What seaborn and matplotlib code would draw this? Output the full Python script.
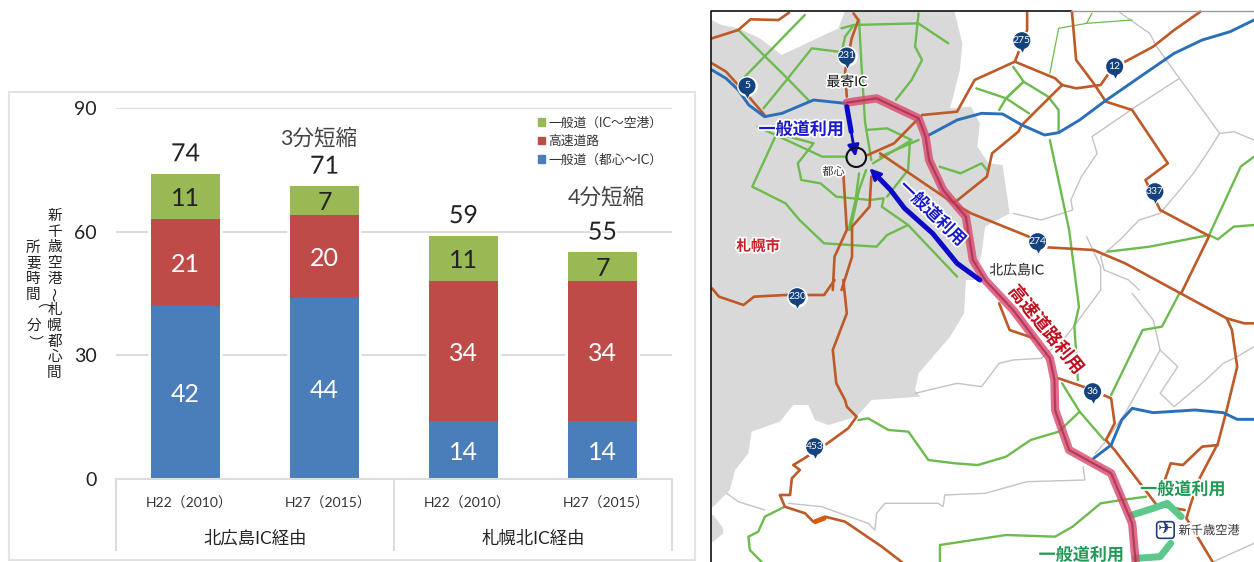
import numpy as np
import pandas as pd
import seaborn as sns
import matplotlib.pyplot as plt
import matplotlib.patheffects as pe
from matplotlib.patches import Patch, Polygon, Ellipse, Rectangle, FancyBboxPatch
from matplotlib.transforms import ScaledTranslation

# chart values
periods = ['H22（2010）', 'H27（2015）', 'H22（2010）', 'H27（2015）']
cases = ['a', 'b', 'c', 'd']
groups = ['北広島IC経由', '札幌北IC経由']
road_city = [42, 44, 14, 14]
road_express = [21, 20, 34, 34]
road_airport = [11, 7, 11, 7]
series_names = ['一般道（IC～空港）', '高速道路', '一般道（都心～IC）']
y_ticks = [0, 30, 60, 90]
BLUE, RED, GREEN = '#4a7ebb', '#be4b48', '#98b954'

# map data: map units (x, y)
land_grey = [(18, 60), (48, 75), (95, 85), (157, 115), (219, 165), (381, 85), (400, 33), (712, 33), (735, 130), (728, 210),
             (700, 325), (760, 320), (785, 370), (778, 440), (810, 490), (850, 495), (870, 640), (800, 680), (790, 760),
             (770, 840), (745, 840), (740, 940), (700, 1010), (610, 1120), (600, 1170), (615, 1190), (476, 1200),
             (433, 1250), (352, 1275), (314, 1260), (295, 1215), (252, 1215), (214, 1265), (133, 1295), (124, 1360),
             (86, 1410), (71, 1470), (24, 1520), (18, 1520)]
land_grey2 = [(18, 1545), (24, 1545), (52, 1585), (52, 1600), (24, 1625), (18, 1625)]

blue_roads = [
    [(20, 210), (60, 235), (95, 270), (125, 315), (170, 350), (220, 340), (310, 300), (400, 310)],
    [(640, 405), (720, 360), (790, 340), (850, 342), (905, 375), (970, 405), (1010, 398), (1070, 360), (1140, 305),
     (1250, 225), (1340, 160), (1420, 120), (1500, 95), (1568, 60)],
    [(1110, 1375), (1160, 1335), (1190, 1260), (1220, 1225), (1280, 1238), (1400, 1230), (1480, 1238), (1520, 1258),
     (1568, 1258)],
]
brown_roads = [
    [(20, 115), (95, 90), (130, 58), (210, 60), (240, 38)],
    [(20, 190), (60, 215), (125, 290), (170, 345)],
    [(424, 40), (438, 60), (419, 115), (400, 215), (405, 290)],
    [(620, 345), (720, 335), (770, 240), (885, 185), (1000, 235), (1020, 255), (1060, 265), (1130, 255), (1150, 225),
     (1200, 185), (1280, 140), (1340, 90), (1415, 35)],
    [(885, 185), (920, 90), (920, 38)],
    [(1048, 35), (1060, 180), (1110, 250), (1145, 305), (1220, 330), (1322, 490), (1258, 540), (1300, 630),
     (1440, 708), (1360, 880)],
    [(1020, 255), (905, 375), (895, 395), (820, 460), (805, 530), (710, 610)],
    [(465, 465), (540, 430), (610, 355)],
    [(500, 460), (710, 610), (760, 640), (925, 710), (975, 742), (1110, 750), (1200, 790), (1490, 955), (1540, 970),
     (1568, 970)],
    [(395, 520), (405, 690), (370, 770), (365, 870)],
    [(475, 530), (470, 620), (420, 680), (420, 770), (390, 870)],
    [(395, 840), (405, 940), (365, 1050), (375, 1150), (400, 1200), (405, 1220), (433, 1250), (409, 1285), (343, 1335),
     (276, 1380), (252, 1395), (271, 1410), (248, 1435), (243, 1485), (214, 1485), (228, 1520), (286, 1540), (309, 1565),
     (343, 1550), (400, 1565), (505, 1640), (562, 1686)],
    [(20, 865), (40, 890), (110, 915), (140, 890), (230, 885), (340, 885), (370, 840)],
    [(1010, 1135), (1080, 1160), (1160, 1195), (1170, 1270), (1145, 1320), (1170, 1350), (1250, 1460), (1290, 1515),
     (1370, 1530)],
    [(1490, 955), (1505, 990), (1520, 1100), (1490, 1230), (1465, 1330), (1410, 1440), (1385, 1520), (1375, 1555),
     (1450, 1686)],
    [(1465, 1335), (1420, 1340), (1365, 1395), (1330, 1390), (1310, 1450)],
    [(840, 910), (870, 990), (940, 1015)],
]
green_roads = [
    [(95, 90), (235, 235), (295, 300)],
    [(114, 230), (285, 45)],
    [(167, 325), (233, 240), (305, 145), (381, 155)],
    [(390, 85), (424, 75), (609, 70), (695, 130)],
    [(425, 75), (400, 110), (392, 150)],
    [(610, 40), (600, 140), (620, 180), (590, 240), (545, 300)],
    [(440, 60), (447, 195), (457, 365), (475, 480)],
    [(205, 400), (135, 560), (230, 610), (270, 660), (340, 730), (490, 740), (520, 705), (580, 675), (720, 830)],
    [(150, 380), (335, 470), (400, 470)],
    [(205, 400), (310, 430), (265, 490), (275, 540), (330, 550), (375, 590), (470, 600), (510, 595), (505, 620),
     (580, 675)],
    [(460, 390), (520, 385), (590, 420), (480, 490)],
    [(585, 430), (580, 510), (520, 590)],
    [(440, 520), (430, 600), (410, 690)],
    [(460, 510), (440, 570), (415, 690)],
    [(610, 420), (500, 470)],
    [(670, 500), (730, 520), (790, 490), (805, 510)],
    [(775, 265), (860, 295), (910, 245), (980, 290), (1010, 330), (1010, 395)],
    [(880, 200), (910, 245), (860, 295), (840, 330)],
    [(860, 295), (925, 340)],
    [(985, 420), (1040, 690), (1068, 920), (1055, 980), (1065, 1140)],
    [(1150, 755), (1270, 740), (1440, 705), (1465, 718), (1510, 680), (1568, 675)],
    [(1440, 705), (1530, 500), (1568, 470)],
    [(438, 1260), (466, 1255), (524, 1290), (581, 1295), (638, 1380), (714, 1390), (780, 1395), (860, 1370), (930, 1320),
     (1010, 1295), (1070, 1235)],
    [(1020, 1150), (1070, 1235), (1140, 1320)],
    [(1160, 1185), (1250, 990), (1305, 980), (1355, 880)],
    [(671, 1686), (671, 1635), (860, 1605), (1000, 1610), (1050, 1580), (1130, 1510), (1190, 1500), (1260, 1490)],
    [(228, 1520), (171, 1550), (152, 1595), (124, 1610), (128, 1650), (162, 1686)],
]
green_thin = [
    [(985, 220), (1010, 85), (1090, 70), (1105, 40)],
    [(1090, 70), (1220, 60)],
]
grey_lines = [
    [(1185, 38), (1270, 100), (1290, 140), (1355, 235), (1470, 400), (1440, 450), (1395, 520), (1340, 590), (1300, 640),
     (1240, 660), (1185, 720), (1130, 770), (1140, 810), (1210, 840), (1240, 870)],
    [(1355, 235), (1230, 320), (1105, 410), (1120, 460), (1075, 530), (1045, 600), (1050, 630), (960, 660), (880, 640)],
    [(1470, 400), (1510, 395), (1568, 420)],
    [(1090, 710), (1130, 800), (1130, 870), (1060, 970), (1030, 1010), (960, 1075), (880, 1080), (840, 1090), (790, 1160),
     (720, 1150), (640, 1170), (600, 1180)],
    [(1300, 1050), (1200, 1240), (1140, 1330), (1115, 1360)],
    [(1220, 880), (1280, 960), (1300, 1050), (1350, 1100), (1300, 1180), (1340, 1220), (1430, 1140), (1480, 1090),
     (1520, 1070), (1568, 1040)],
    [(1080, 1400), (1085, 1440), (920, 1445), (800, 1480), (685, 1485), (680, 1520), (666, 1510), (514, 1510), (490, 1540),
     (485, 1590), (466, 1570), (333, 1520), (238, 1510)],
    [(171, 1530), (95, 1505), (62, 1480)],
    [(1450, 1686), (1568, 1630)],
]
expressway = [(405, 308), (490, 295), (610, 355), (630, 410), (640, 480), (680, 570), (745, 650), (765, 780), (800, 840),
              (880, 930), (985, 1075), (998, 1140), (1000, 1230), (1040, 1350), (1160, 1420), (1220, 1570), (1230, 1686)]
access_north = [(405, 320), (430, 470)]
access_south = [(785, 840), (720, 790), (650, 700), (570, 625), (530, 570), (470, 505)]
airport_links = [
    [(1220, 1545), (1280, 1525), (1320, 1510), (1360, 1550)],
    [(1230, 1675), (1300, 1670), (1330, 1630)],
]
shield_x = [405, 120, 905, 1170, 1285, 950, 263, 1107, 313]
shield_y = [168, 258, 122, 200, 575, 725, 890, 1175, 1340]
shield_text = ['231', '5', '275', '12', '337', '274', '230', '36', '453']


def px_box(left, top, right, bottom):
    return [left / 1254, 1 - bottom / 562, (right - left) / 1254, (bottom - top) / 562]


def road(ax, pts, color, lw, alpha=1.0, zorder=3):
    xs, ys = zip(*pts)
    sns.lineplot(x=list(xs), y=list(ys), sort=False, estimator=None, color=color, linewidth=lw, alpha=alpha,
                 zorder=zorder, ax=ax)


sns.set_theme(style='white')
plt.rcParams['font.family'] = ['Lato', 'Noto Sans CJK JP', 'DejaVu Sans']
halo = [pe.withStroke(linewidth=2.5, foreground='white')]
fig = plt.figure(figsize=(12.54, 5.62), dpi=100, facecolor='white')

# ---- chart ----
fig.add_artist(Rectangle((9 / 1254, 1 - 560 / 562), 686 / 1254, 468 / 562, transform=fig.transFigure, fill=False,
                         edgecolor='#e4e4e4', linewidth=1.5))
ax = fig.add_axes(px_box(116, 108, 672, 479))
df = pd.DataFrame({'case': cases, 'city': road_city, 'express': road_express, 'airport': road_airport})
df['mid'] = df['city'] + df['express']
df['total'] = df['mid'] + df['airport']

ax.set_axisbelow(True)
ax.yaxis.grid(True, color='#dcdcdc', linewidth=1.5)
sns.barplot(data=df, x='case', y='total', color='white', edgecolor='white', linewidth=4, width=0.5, ax=ax)
sns.barplot(data=df, x='case', y='total', color=GREEN, saturation=1, edgecolor='none', linewidth=0, width=0.5, ax=ax)
sns.barplot(data=df, x='case', y='mid', color=RED, saturation=1, edgecolor='none', linewidth=0, width=0.5, ax=ax)
sns.barplot(data=df, x='case', y='city', color=BLUE, saturation=1, edgecolor='none', linewidth=0, width=0.5, ax=ax)

for i, row in df.iterrows():
    ax.text(i, row['city'] / 2 - 0.5, row['city'], color='white', fontsize=18, ha='center', va='center')
    ax.text(i, row['city'] + row['express'] / 2 - 0.5, row['express'], color='white', fontsize=18, ha='center', va='center')
    ax.text(i, row['mid'] + row['airport'] / 2 - 0.5, row['airport'], color='#222222', fontsize=18, ha='center', va='center')
    ax.text(i, row['total'] + 4.9, row['total'], color='#222222', fontsize=18, ha='center', va='center',
            path_effects=halo)
ax.text(0.96, 82.7, '3分短縮', color='#444444', fontsize=15.5, ha='center', va='center')
ax.text(3.03, 68.4, '4分短縮', color='#444444', fontsize=15.5, ha='center', va='center')

ax.set_xlim(-0.5, 3.5)
ax.set_ylim(0, 90)
ax.set_yticks(y_ticks)
ax.set_xticks(range(4))
ax.set_xticklabels(periods, fontsize=10, color='#333333')
ax.tick_params(axis='y', labelsize=14, labelcolor='#222222', length=0, pad=14)
ax.tick_params(axis='x', length=0, pad=12.5)
for tick_label in ax.get_xticklabels():
    tick_label.set_transform(tick_label.get_transform() + ScaledTranslation(0.04, 0, fig.dpi_scale_trans))
ax.set_xlabel('')
ax.set_ylabel('')
sns.despine(ax=ax, left=True, top=True, right=True)
ax.spines['bottom'].set_color('#dcdcdc')
ax.spines['bottom'].set_linewidth(1.5)
ax.vlines([-0.5, 1.5, 3.5], -17.5, 0, color='#dcdcdc', linewidth=1.5, clip_on=False)
for x_pos, name in zip([0.5, 2.5], groups):
    ax.text(x_pos, -14.4, name, fontsize=12.5, color='#222222', ha='center', va='center')

handles = [Patch(color=c) for c in [GREEN, RED, BLUE]]
ax.legend(handles, series_names, loc='upper left', bbox_to_anchor=(0.747, 0.995), frameon=False, fontsize=9.2,
          handlelength=0.55, handleheight=0.55, handletextpad=0.3, labelspacing=0.5, borderpad=0,
          labelcolor='#333333')

# vertical y label, one glyph at a time
for x_px, y_px, step, label in [(54.5, 216, 15.7, '新千歳空港～札幌都心間'), (33.5, 248, 15.5, '所要時間（分）')]:
    for k, ch in enumerate(label):
        nudge = 3 if ch == '～' else 0
        fig.text((x_px - nudge) / 1254, 1 - (y_px + k * step) / 562, ch, fontsize=10.5, color='#222222', ha='center',
                 va='center', rotation=-90 if ch in '～（）' else 0, rotation_mode='anchor')

# ---- map ----
mp = fig.add_axes(px_box(705, 0, 1254, 562))
mp.add_patch(Polygon(land_grey, closed=True, facecolor='#d9d9d9', edgecolor='none', zorder=1))
mp.add_patch(Polygon(land_grey2, closed=True, facecolor='#d9d9d9', edgecolor='none', zorder=1))
for pts in grey_lines:
    road(mp, pts, '#c4c4c4', 1.0, zorder=2)
for pts in green_thin:
    road(mp, pts, '#6dbb4f', 0.9)
for pts in green_roads:
    road(mp, pts, '#6dbb4f', 1.7)
for pts in brown_roads:
    road(mp, pts, '#bd5a28', 1.9, zorder=4)
road(mp, [(315, 1565), (340, 1555)], '#d85a10', 3.5, zorder=4)
for pts in blue_roads:
    road(mp, pts, '#2a6fb8', 2.1, zorder=4)
for pts in airport_links:
    road(mp, pts, '#5cc88c', 5, zorder=5)
road(mp, expressway, '#d9486e', 6.0, alpha=0.8, zorder=6)
road(mp, expressway, '#a8304f', 1.6, alpha=0.8, zorder=7)

for pts in [access_north, access_south]:
    road(mp, pts[:-1] + [((pts[-2][0] + pts[-1][0]) / 2, (pts[-2][1] + pts[-1][1]) / 2)], '#0a0ac8', 3.6, zorder=8)
    mp.annotate('', xy=pts[-1], xytext=pts[-2], zorder=8,
                arrowprops=dict(arrowstyle='-|>', color='#0a0ac8', lw=2, mutation_scale=17, shrinkA=0, shrinkB=0))
mp.add_patch(Ellipse((432, 472), 56, 58, fill=False, edgecolor='#111111', linewidth=1.5, zorder=9))

# route shields
sns.scatterplot(x=shield_x, y=shield_y, marker='o', s=190, color='white', edgecolor='white', zorder=9, ax=mp)
sns.scatterplot(x=shield_x, y=[v + 14 for v in shield_y], marker='v', s=130, color='#14427f', edgecolor='white',
                linewidth=0.5, zorder=10, ax=mp)
sns.scatterplot(x=shield_x, y=shield_y, marker='o', s=150, color='#14427f', edgecolor='none', zorder=10, ax=mp)
for sx, sy, st in zip(shield_x, shield_y, shield_text):
    mp.text(sx, sy, st, color='white', fontsize=7.5, ha='center', va='center', zorder=11)

map_labels = [
    ('最寄IC', 405, 245, 10, '#111111', 0, 'normal'),
    ('一般道利用', 275, 388, 12.3, '#1a1ac8', 0, 'bold'),
    ('都心', 367, 515, 8, '#333333', 0, 'normal'),
    ('札幌市', 152, 740, 10.5, '#c8202a', 0, 'bold'),
    ('一般道利用', 650, 640, 12.3, '#1a1ac8', -44, 'bold'),
    ('北広島IC', 890, 810, 10, '#222222', 0, 'normal'),
    ('高速道路利用', 975, 988, 13, '#c01020', -51, 'bold'),
    ('一般道利用', 1365, 1468, 12.3, '#1f9a55', 0, 'bold'),
    ('一般道利用', 1075, 1665, 12.3, '#1f9a55', 0, 'bold'),
    ('新千歳空港', 1440, 1592, 8.8, '#333333', 0, 'normal'),
]
for txt, lx, ly, fs, col, rot, wt in map_labels:
    mp.text(lx, ly, txt, fontsize=fs, color=col, rotation=rot, rotation_mode='anchor', fontweight=wt, ha='center',
            va='center', zorder=12, path_effects=halo)
mp.add_patch(FancyBboxPatch((1290, 1565), 50, 50, boxstyle='round,pad=0,rounding_size=10', facecolor='white',
                            edgecolor='#1f3f7a', linewidth=1.2, zorder=11))
mp.text(1315, 1590, '✈', family=['DejaVu Sans'], fontsize=13, color='#1f3f7a', ha='center', va='center', zorder=12)

# map frame
mp.plot([18, 18, 1045], [1686, 33, 33], color='#111111', linewidth=1.2, zorder=13)
mp.plot([1045, 1568], [33, 33], color='#999999', linewidth=1.0, zorder=13)
mp.set_xlim(0, 1568)
mp.set_ylim(1686, 0)
mp.set_xlabel('')
mp.set_ylabel('')
mp.set_xticks([])
mp.set_yticks([])
mp.patch.set_alpha(0)
for s in mp.spines.values():
    s.set_visible(False)

fig.savefig('out.png', dpi=100)
